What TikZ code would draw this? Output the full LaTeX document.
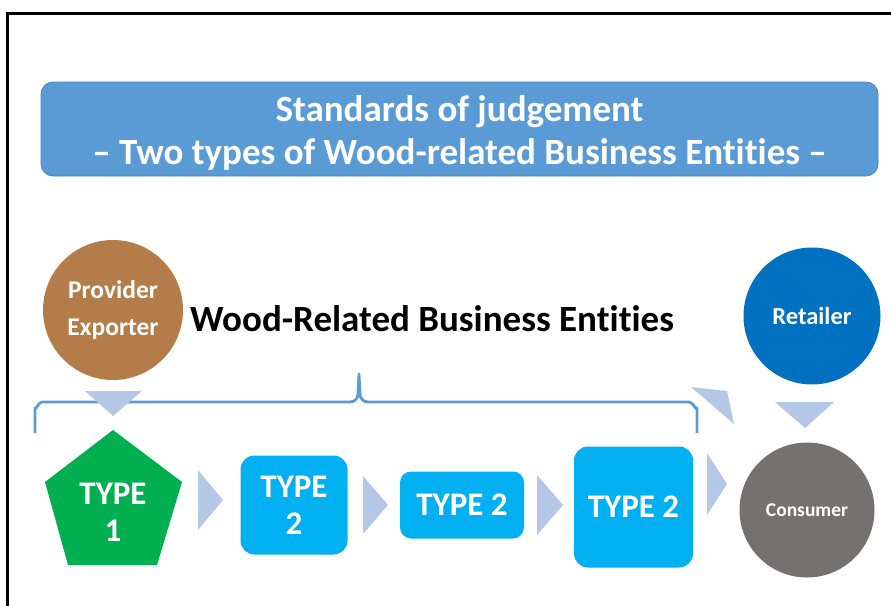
\documentclass[tikz,border=0pt]{standalone}
\usepackage{fontspec}
\setmainfont{Carlito}[Ligatures=NoCommon]
\usetikzlibrary{shapes.geometric}
\definecolor{titleblue}{HTML}{5B9BD5}
\definecolor{titleedge}{HTML}{4A86C0}
\definecolor{brown}{HTML}{B47C48}
\definecolor{retblue}{HTML}{0070C0}
\definecolor{cyanbox}{HTML}{00B0F0}
\definecolor{grn}{HTML}{00B050}
\definecolor{gry}{HTML}{767171}
\definecolor{chev}{HTML}{B4C7E7}
\definecolor{bracec}{HTML}{5B9BD5}
\tikzset{
  wtext/.style={text=white,font=\bfseries},
  circ/.style={circle,inner sep=0pt,wtext},
  tbox/.style={rounded corners=14pt,fill=cyanbox,inner sep=0pt,wtext,align=center},
  chevfill/.style={fill=chev}
}
\begin{document}
\begin{tikzpicture}[x=1pt,y=-1pt]
\useasboundingbox (0,0) rectangle (891,605);
\fill[white] (0,0) rectangle (891,605);
% frame
\draw[line width=3pt,black] (7,606) -- (7,13) -- (892,13);
% title
\node[draw=titleedge,line width=0.8pt,fill=titleblue,rounded corners=12pt,minimum width=837pt,minimum height=94pt,inner sep=0pt] (title) at (459.5,129) {};
\node[wtext,align=center,inner sep=0pt,font=\bfseries\fontsize{37}{43}\selectfont] (titletext) at (459.5,133) {Standards of judgement\\– Two types of Wood-related Business Entities –};
% provider
\node[circ,fill=brown,minimum size=140pt,font=\bfseries\fontsize{25.5}{37}\selectfont,align=center] (prov) at (113,310) {Provider\\Exporter};
% heading
\node[font=\bfseries\fontsize{37}{40}\selectfont,inner sep=0pt] (wrbe) at (432,319) {Wood-Related Business Entities};
% retailer
\node[circ,fill=retblue,minimum size=137pt,font=\bfseries\fontsize{24.5}{28}\selectfont] (ret) at (812,316) {Retailer};
% brace
\draw[bracec,line width=2.8pt,line join=round] (35,433) -- (35,408) to[out=-90,in=180] (42,402) -- (350,402) to[out=0,in=-90] (358,394) -- (359,374) -- (360,394) to[out=-90,in=180] (368,402) -- (689,402) to[out=0,in=-90] (697,408) -- (697,433);
% down triangles
\fill[chevfill] (85,391) -- (142,391) -- (113,416) -- cycle;
\fill[chevfill] (775,402) -- (834,402) -- (805,428) -- cycle;
\fill[chevfill] (691,387) -- (727,391) -- (734,424) -- cycle;
% type 1 pentagon
\fill[grn] (113,430) -- (182,482) -- (157,565) -- (68,565) -- (45,482) -- cycle;
\node[wtext,font=\bfseries\fontsize{33}{37}\selectfont,align=center] (t1) at (113,512) {TYPE\\1};
% boxes
\node[tbox,minimum width=107pt,minimum height=99pt,font=\bfseries\fontsize{33}{37}\selectfont] (t2a) at (294,505) {TYPE\\2};
\node[tbox,rounded corners=11pt,minimum width=124pt,minimum height=67pt,font=\bfseries\fontsize{33}{37}\selectfont] (t2b) at (462,505) {TYPE 2};
\node[tbox,minimum width=119pt,minimum height=121pt,font=\bfseries\fontsize{33}{37}\selectfont] (t2c) at (633.5,507) {TYPE 2};
% chevrons
\fill[chevfill] (198,470) -- (223,500) -- (198,530) -- cycle;
\fill[chevfill] (363,476) -- (388,505) -- (363,534) -- cycle;
\fill[chevfill] (537,475) -- (563,505) -- (537,535) -- cycle;
\fill[chevfill] (707,453) -- (727,484) -- (707,515) -- cycle;
% consumer
\node[circ,fill=gry,minimum size=135pt,font=\bfseries\fontsize{19.5}{24}\selectfont] (cons) at (807,510) {Consumer};
\end{tikzpicture}
\end{document}
